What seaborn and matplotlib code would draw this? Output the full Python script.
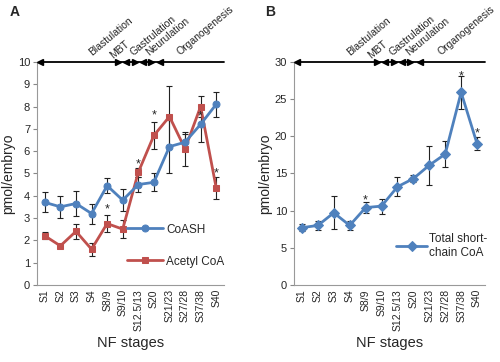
import matplotlib
matplotlib.use("Agg")
import matplotlib.pyplot as plt
import numpy as np
import pandas as pd
import seaborn as sns

# data
stages = ["S1", "S2", "S3", "S4", "S8/9", "S9/10", "S12.5/13", "S20",
          "S21/23", "S27/28", "S37/38", "S40"]
coash = [3.7, 3.5, 3.65, 3.2, 4.45, 3.8, 4.5, 4.6, 6.2, 6.4, 7.2, 8.1]
coash_err = [0.45, 0.5, 0.55, 0.45, 0.35, 0.5, 0.35, 0.4, 1.2, 0.35, 0.8, 0.55]
acetyl = [2.2, 1.75, 2.4, 1.6, 2.75, 2.5, 5.05, 6.7, 7.55, 6.1, 8.0, 4.35]
acetyl_err = [0.15, 0.05, 0.35, 0.3, 0.4, 0.4, 0.2, 0.6, 1.35, 0.75, 0.45, 0.5]
total = [7.7, 8.0, 9.7, 8.0, 10.4, 10.6, 13.2, 14.3, 16.1, 17.6, 25.9, 19.0]
total_err = [0.5, 0.6, 2.2, 0.6, 0.7, 1.0, 1.3, 0.5, 2.6, 1.8, 2.2, 0.9]

stars_a = {"S8/9": 3.4, "S12.5/13": 5.4, "S20": 7.6, "S37/38": 7.55, "S40": 5.0}
stars_b = {"S8/9": 11.3, "S37/38": 28.0, "S40": 20.4}

# developmental periods on the top bar, in category positions
left_heads = [-0.3, 5.2, 6.3, 7.4]
right_heads = [4.7, 5.8, 6.8]
period_names = ["Blastulation", "MBT", "Gastrulation", "Neurulation", "Organogenesis"]
name_pos = [3.1, 4.45, 5.75, 6.8, 8.8]

blue = "#4F81BD"
red = "#C0504D"

sns.set_style("white")
plt.rcParams["font.family"] = ["Liberation Sans", "DejaVu Sans"]

x = np.arange(len(stages))
df = pd.DataFrame({"pos": x, "stage": stages, "CoASH": coash, "Acetyl CoA": acetyl,
                   "Total short-\nchain CoA": total})

fig = plt.figure(figsize=(5, 3.62), dpi=100)
axA = fig.add_axes([0.074, 0.213, 0.374, 0.616])
axB = fig.add_axes([0.588, 0.213, 0.382, 0.616])


def style_axis(ax, ymax, ystep):
    ax.set_xlim(-0.5, 11.5)
    ax.set_ylim(0, ymax)
    ax.set_yticks(np.arange(0, ymax + ystep / 2, ystep))
    ax.set_xticks(x)
    ax.set_xticklabels(stages, rotation=90, fontsize=7.5)
    ax.set_xticks(np.arange(-0.5, 12, 1), minor=True)
    ax.tick_params(axis="x", which="major", length=0, pad=3)
    ax.tick_params(axis="x", which="minor", length=3, color="#888888", direction="out")
    ax.tick_params(axis="y", length=3, color="#888888", direction="out", left=True,
                   labelsize=8, pad=2)
    for s in ["top", "right"]:
        ax.spines[s].set_visible(False)
    for s in ["left", "bottom"]:
        ax.spines[s].set_color("#999999")
        ax.spines[s].set_linewidth(0.8)


def draw_periods(ax, ytop):
    ax.plot([-0.3, 11.5], [ytop, ytop], color="black", lw=1.3, clip_on=False, zorder=5)
    ax.plot(left_heads, [ytop] * len(left_heads), ls="none", marker="<", color="black",
            markersize=5, clip_on=False, zorder=5)
    ax.plot(right_heads, [ytop] * len(right_heads), ls="none", marker=">", color="black",
            markersize=5, clip_on=False, zorder=5)
    trans = ax.get_xaxis_transform()
    for name, px in zip(period_names, name_pos):
        py = 1.005 if name == "MBT" else 1.02
        ax.text(px, py, name, rotation=40, fontsize=7.5, ha="left", va="bottom",
                transform=trans, rotation_mode="anchor")


def labels(ax):
    ax.set_xlim(-0.5, 11.5)
    ax.set_xlabel("NF stages", fontsize=10.5, labelpad=4)
    ax.set_ylabel("pmol/embryo", fontsize=10, labelpad=2)


# panel A
style_axis(axA, 10, 1)
axA.errorbar(x, coash, yerr=coash_err, fmt="none", ecolor="#222222", elinewidth=0.8,
             capsize=2.5, capthick=0.8, zorder=1)
axA.errorbar(x, acetyl, yerr=acetyl_err, fmt="none", ecolor="#222222", elinewidth=0.8,
             capsize=2.5, capthick=0.8, zorder=1)
sns.lineplot(data=df, x="pos", y="CoASH", ax=axA, color=blue, marker="o", markersize=5,
             markeredgecolor=blue, lw=2, label="CoASH", zorder=3)
sns.lineplot(data=df, x="pos", y="Acetyl CoA", ax=axA, color=red, marker="s", markersize=5,
             markeredgecolor=red, lw=2, label="Acetyl CoA", zorder=2)
for st, yv in stars_a.items():
    axA.text(stages.index(st), yv, "*", ha="center", va="center", fontsize=9)
labels(axA)
axA.legend(loc="lower right", bbox_to_anchor=(1.06, 0.03), frameon=False, fontsize=8.5,
           handlelength=3.0, labelspacing=1.7, handletextpad=0.3)
draw_periods(axA, 10)

# panel B
style_axis(axB, 30, 5)
axB.errorbar(x, total, yerr=total_err, fmt="none", ecolor="#222222", elinewidth=0.8,
             capsize=2.5, capthick=0.8, zorder=1)
sns.lineplot(data=df, x="pos", y="Total short-\nchain CoA", ax=axB, color=blue, marker="D",
             markersize=5, markeredgecolor=blue, lw=2, label="Total short-\nchain CoA", zorder=3)
for st, yv in stars_b.items():
    axB.text(stages.index(st), yv, "*", ha="center", va="center", fontsize=9)
labels(axB)
axB.legend(loc="lower right", bbox_to_anchor=(1.07, 0.07), frameon=False, fontsize=8.5,
           handlelength=2.6, handletextpad=0.2)
draw_periods(axB, 30)

fig.text(0.02, 0.955, "A", fontsize=10, fontweight="bold")
fig.text(0.53, 0.955, "B", fontsize=10, fontweight="bold")

fig.savefig("out.png", dpi=100)
